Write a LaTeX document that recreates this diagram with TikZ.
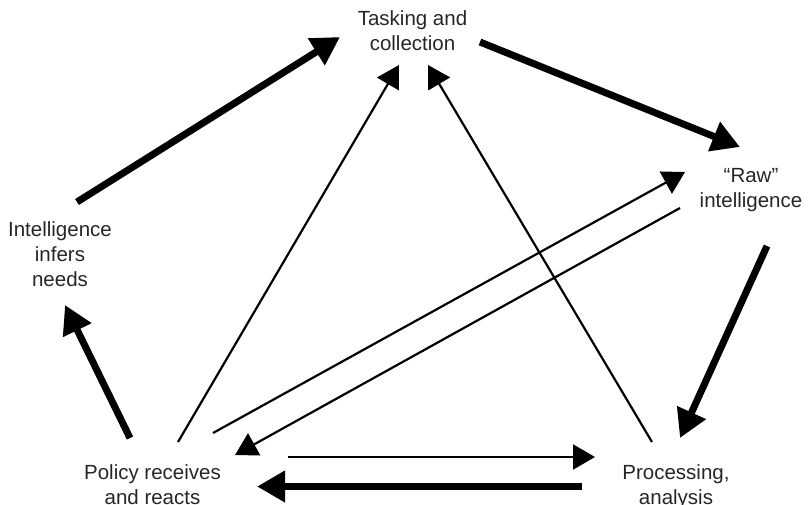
\documentclass[tikz,border=0pt]{standalone}
\usepackage{fontspec}
\setmainfont{Liberation Sans}
\usetikzlibrary{arrows.meta}
\begin{document}
\begin{tikzpicture}[x=1pt,y=-1pt,
  lbl/.style={font=\fontsize{20.5}{25}\selectfont, align=center, text=black!85, inner sep=0pt, anchor=base},
  bigarrow/.style={line width=7pt, -{Triangle[length=28pt,width=30pt]}},
  smallarrow/.style={line width=2.2pt, -{Triangle[length=22pt,width=25pt]}}]
\useasboundingbox (0,0) rectangle (809,504);
% labels (anchor = baseline of last line)
\node[lbl] (task)   at (412.5,50)  {Tasking and\\collection};
\node[lbl] (raw)    at (751,207)   {“Raw”\\intelligence};
\node[lbl] (infer)  at (60,286)    {Intelligence\\infers\\needs};
\node[lbl] (policy) at (152.5,504) {Policy receives\\and reacts};
\node[lbl] (proc)   at (676,504)   {Processing,\\analysis};
% connector ends
\coordinate (inferOut)  at (77,202);
\coordinate (taskInL)   at (340,37);
\coordinate (taskOut)   at (480,42);
\coordinate (rawInT)    at (740,147);
\coordinate (rawOut)    at (767,246);
\coordinate (procInT)   at (680,438);
\coordinate (procOutB)  at (582,486.5);
\coordinate (policyInB) at (257,486.5);
\coordinate (policyOutL) at (130,438);
\coordinate (inferIn)   at (65,305);
\coordinate (policyOutT) at (178,442);
\coordinate (taskInA)   at (399,65);
\coordinate (procOutT)  at (652,442);
\coordinate (taskInB)   at (428,65);
\coordinate (policyOutR) at (213,433);
\coordinate (rawInL)    at (685,172);
\coordinate (rawOutL)   at (680,208);
\coordinate (policyInR) at (235,455);
\coordinate (policyOutH) at (288,457);
\coordinate (procInL)   at (595,457);
% thick cycle
\draw[bigarrow] (inferOut) -- (taskInL);
\draw[bigarrow] (taskOut) -- (rawInT);
\draw[bigarrow] (rawOut) -- (procInT);
\draw[bigarrow] (procOutB) -- (policyInB);
\draw[bigarrow] (policyOutL) -- (inferIn);
% thin links
\draw[smallarrow] (policyOutT) -- (taskInA);
\draw[smallarrow] (procOutT) -- (taskInB);
\draw[smallarrow] (policyOutR) -- (rawInL);
\draw[smallarrow] (rawOutL) -- (policyInR);
\draw[smallarrow] (policyOutH) -- (procInL);
\end{tikzpicture}
\end{document}
